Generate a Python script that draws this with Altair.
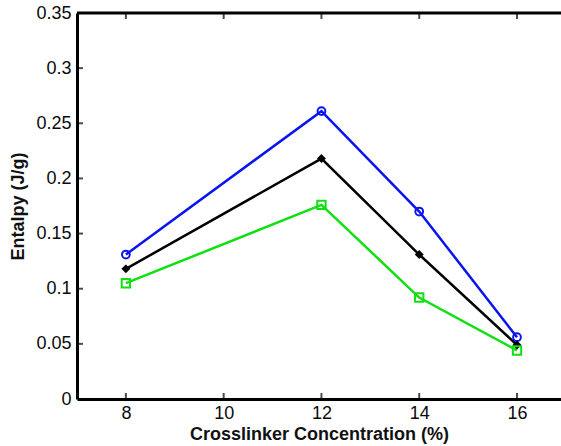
import altair as alt
import pandas as pd

# Crosslinker concentration (%) and measured enthalpy (J/g) for three series
concentration = [8, 12, 14, 16]
enthalpy_blue = [0.131, 0.261, 0.170, 0.056]
enthalpy_black = [0.118, 0.218, 0.131, 0.049]
enthalpy_green = [0.105, 0.176, 0.092, 0.044]

series_names = ["blue", "black", "green"]
series_colors = ["#0a14f0", "#000000", "#10e010"]

x_ticks = [8, 10, 12, 14, 16]
y_ticks = [0, 0.05, 0.1, 0.15, 0.2, 0.25, 0.3, 0.35]

rows = []
for name, vals in zip(series_names, [enthalpy_blue, enthalpy_black, enthalpy_green]):
    for c, v in zip(concentration, vals):
        rows.append({"series": name, "conc": c, "enthalpy": v})
df = pd.DataFrame(rows)

FONT = "Liberation Sans"
X_DOMAIN = [7, 16.9]
Y_DOMAIN = [0, 0.35]

x_scale = alt.Scale(domain=X_DOMAIN, nice=False, zero=False)
y_scale = alt.Scale(domain=Y_DOMAIN, nice=False)

x_enc = alt.X(
    "conc:Q",
    scale=x_scale,
    axis=alt.Axis(
        values=x_ticks,
        ticks=False,
        grid=False,
        domainColor="#000000",
        domainWidth=3,
        labelFont=FONT,
        labelFontSize=18,
        labelColor="#0a0a0a",
        labelPadding=5,
        title="Crosslinker Concentration (%)",
        titleFont=FONT,
        titleFontSize=18,
        titleFontWeight="bold",
        titleColor="#111111",
        titlePadding=3,
    ),
)
y_enc = alt.Y(
    "enthalpy:Q",
    scale=y_scale,
    axis=alt.Axis(
        values=y_ticks,
        ticks=False,
        grid=False,
        domainColor="#000000",
        domainWidth=3,
        labelExpr="format(datum.value, '~g')",
        labelFont=FONT,
        labelFontSize=18,
        labelColor="#0a0a0a",
        labelPadding=6,
        title="Entalpy (J/g)",
        titleFont=FONT,
        titleFontSize=18,
        titleFontWeight="bold",
        titleColor="#111111",
        titlePadding=8,
    ),
)

color = alt.Color("series:N", scale=alt.Scale(domain=series_names, range=series_colors), legend=None)

lines = alt.Chart(df).mark_line(strokeWidth=2.5).encode(
    x=x_enc, y=y_enc, color=color, detail="series:N"
)


def markers(name, shape, size, filled, col):
    return (
        alt.Chart(df)
        .transform_filter(alt.datum.series == name)
        .mark_point(shape=shape, size=size, filled=filled, color=col, strokeWidth=2, opacity=1)
        .encode(x=alt.X("conc:Q", scale=x_scale), y=alt.Y("enthalpy:Q", scale=y_scale))
    )


blue_pts = markers("blue", "circle", 60, False, series_colors[0])
black_pts = markers("black", "diamond", 80, True, series_colors[1])
green_pts = markers("green", "square", 70, False, series_colors[2])

# top frame line
top_rule = alt.Chart(pd.DataFrame({"y": [Y_DOMAIN[1]]})).mark_rule(
    color="#000000", strokeWidth=3
).encode(y=alt.Y("y:Q", scale=y_scale))

# inward-pointing ticks along bottom, top and left edges
xt = pd.DataFrame({"x": x_ticks})
bottom_ticks = alt.Chart(xt).mark_tick(
    orient="vertical", size=6, thickness=2, color="#000000", yOffset=-3
).encode(x=alt.X("x:Q", scale=x_scale), y=alt.datum(Y_DOMAIN[0]))
top_ticks = alt.Chart(xt).mark_tick(
    orient="vertical", size=6, thickness=2, color="#000000", yOffset=3
).encode(x=alt.X("x:Q", scale=x_scale), y=alt.datum(Y_DOMAIN[1]))
yt = pd.DataFrame({"y": y_ticks[1:]})
left_ticks = alt.Chart(yt).mark_tick(
    orient="horizontal", size=6, thickness=2, color="#000000", xOffset=3
).encode(y=alt.Y("y:Q", scale=y_scale), x=alt.datum(X_DOMAIN[0]))

chart = (
    alt.layer(lines, blue_pts, black_pts, green_pts, top_rule, bottom_ticks, top_ticks, left_ticks)
    .properties(
        width=484,
        height=386,
        autosize=alt.AutoSizeParams(type="none"),
        padding={"left": 77, "top": 13, "right": 0, "bottom": 47},
        background="white",
    )
    .configure_view(stroke=None)
)

chart.save("out.html", embed_options={"renderer": "svg", "actions": False})
